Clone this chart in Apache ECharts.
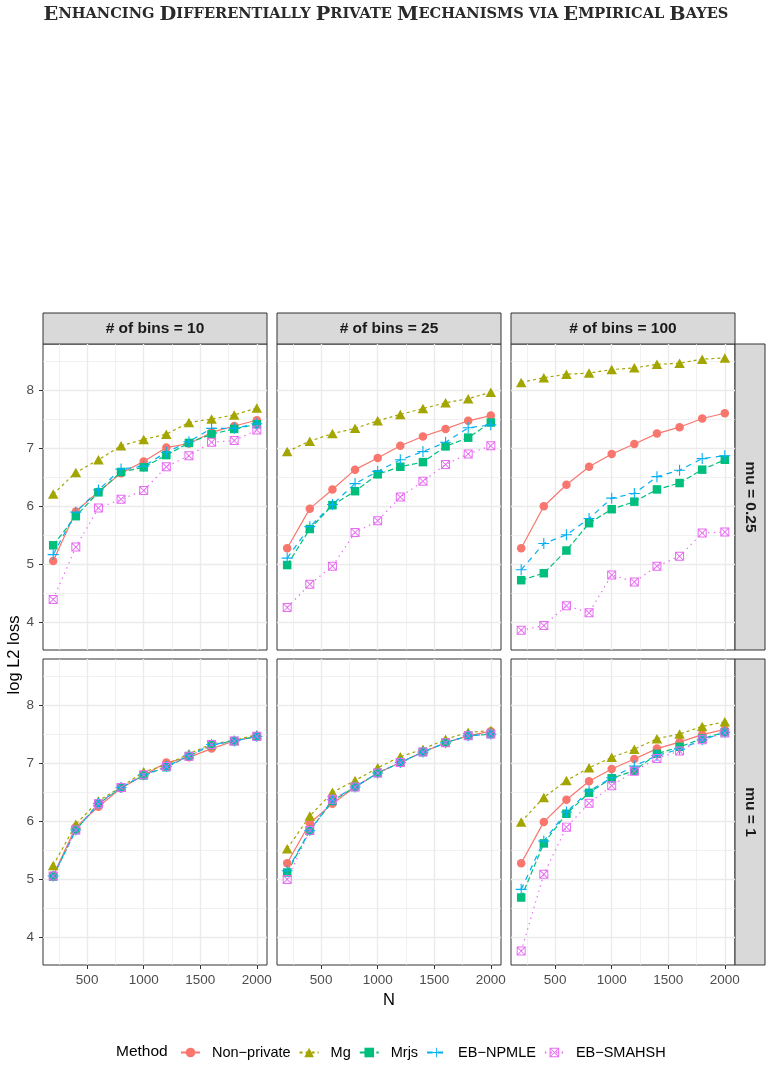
<!DOCTYPE html>
<html>
<head>
<meta charset="utf-8">
<script src="https://cdn.jsdelivr.net/npm/echarts@6/dist/echarts.min.js"></script>
<style>html,body{margin:0;padding:0;background:#fff}#chart-container{width:772px;height:1066px}</style>
</head>
<body>
<div id="chart-container"></div>
<script>
var titleText = 'Enhancing Differentially Private Mechanisms via Empirical Bayes';
var N = [200, 400, 600, 800, 1000, 1200, 1400, 1600, 1800, 2000];
var binLabels = ['# of bins = 10', '# of bins = 25', '# of bins = 100'];
var muLabels = ['mu = 0.25', 'mu = 1'];
var xTicks = [500, 1000, 1500, 2000];
var yTicks = [4, 5, 6, 7, 8];

// one row per panel: mu=0.25 (bins 10, 25, 100), then mu=1 (bins 10, 25, 100)
var nonPrivate = [
  [5.06, 5.91, 6.25, 6.57, 6.77, 7.01, 7.08, 7.27, 7.38, 7.48],
  [5.28, 5.96, 6.29, 6.63, 6.83, 7.04, 7.20, 7.33, 7.47, 7.56],
  [5.28, 6.00, 6.37, 6.68, 6.90, 7.07, 7.25, 7.36, 7.51, 7.60],
  [5.07, 5.90, 6.25, 6.57, 6.79, 7.01, 7.10, 7.25, 7.38, 7.46],
  [5.28, 5.97, 6.30, 6.59, 6.83, 7.01, 7.19, 7.35, 7.47, 7.55],
  [5.28, 5.99, 6.37, 6.69, 6.90, 7.07, 7.25, 7.36, 7.49, 7.58]
];
var mg = [
  [6.21, 6.58, 6.80, 7.04, 7.15, 7.24, 7.44, 7.50, 7.57, 7.69],
  [6.94, 7.12, 7.25, 7.34, 7.47, 7.58, 7.68, 7.78, 7.85, 7.96],
  [8.13, 8.21, 8.27, 8.29, 8.35, 8.38, 8.44, 8.46, 8.53, 8.55],
  [5.24, 5.95, 6.35, 6.59, 6.85, 6.97, 7.16, 7.33, 7.39, 7.49],
  [5.53, 6.09, 6.50, 6.70, 6.92, 7.11, 7.24, 7.41, 7.53, 7.56],
  [5.99, 6.41, 6.70, 6.92, 7.10, 7.24, 7.42, 7.50, 7.63, 7.71]
];
var mrjs = [
  [5.33, 5.83, 6.24, 6.59, 6.67, 6.88, 7.09, 7.24, 7.33, 7.41],
  [4.99, 5.61, 6.02, 6.26, 6.55, 6.68, 6.76, 7.03, 7.18, 7.44],
  [4.73, 4.85, 5.24, 5.71, 5.95, 6.08, 6.29, 6.40, 6.63, 6.80],
  [5.05, 5.85, 6.30, 6.58, 6.79, 6.93, 7.12, 7.31, 7.38, 7.46],
  [5.12, 5.84, 6.35, 6.59, 6.83, 7.01, 7.19, 7.35, 7.47, 7.50],
  [4.69, 5.62, 6.13, 6.49, 6.74, 6.87, 7.16, 7.28, 7.42, 7.53]
];
var ebNpmle = [
  [5.17, 5.90, 6.28, 6.64, 6.69, 6.93, 7.11, 7.34, 7.34, 7.42],
  [5.11, 5.65, 6.03, 6.39, 6.60, 6.80, 6.94, 7.10, 7.35, 7.40],
  [4.91, 5.36, 5.51, 5.79, 6.14, 6.22, 6.51, 6.62, 6.82, 6.87],
  [5.06, 5.85, 6.31, 6.58, 6.80, 6.94, 7.13, 7.32, 7.38, 7.46],
  [5.15, 5.84, 6.37, 6.59, 6.83, 7.01, 7.19, 7.35, 7.47, 7.50],
  [4.83, 5.66, 6.16, 6.52, 6.75, 6.95, 7.13, 7.24, 7.40, 7.53]
];
var ebSmahsh = [
  [4.40, 5.30, 5.97, 6.12, 6.27, 6.68, 6.87, 7.10, 7.13, 7.31],
  [4.26, 4.66, 4.97, 5.55, 5.75, 6.16, 6.43, 6.72, 6.90, 7.04],
  [3.87, 3.95, 4.29, 4.17, 4.82, 4.70, 4.97, 5.14, 5.54, 5.56],
  [5.06, 5.85, 6.30, 6.58, 6.80, 6.94, 7.12, 7.32, 7.38, 7.46],
  [5.00, 5.84, 6.38, 6.59, 6.83, 7.01, 7.19, 7.35, 7.47, 7.50],
  [3.77, 5.09, 5.90, 6.31, 6.61, 6.86, 7.08, 7.21, 7.40, 7.52]
];

var PLUS = 'path://M0,4.5H10V5.5H0Z M4.5,0H5.5V10H4.5Z';
var SQCROSS = 'path://M0,0H10V10H0Z M1.1,1.1V8.9H8.9V1.1Z M0,0.7L0.7,0L10,9.3L9.3,10Z M9.3,0L10,0.7L0.7,10L0,9.3Z';

var methods = [
  {name: 'Non\u2212private', data: nonPrivate, color: '#F8766D', symbol: 'circle', size: 8.5, dash: 'solid'},
  {name: 'Mg', data: mg, color: '#A3A500', symbol: 'triangle', size: [10.5, 9.5], dash: [3, 3]},
  {name: 'Mrjs', data: mrjs, color: '#00BF7D', symbol: 'rect', size: 8.5, dash: [5.5, 2.8]},
  {name: 'EB\u2212NPMLE', data: ebNpmle, color: '#00B0F6', symbol: PLUS, size: 11, dash: [5.5, 5]},
  {name: 'EB\u2212SMAHSH', data: ebSmahsh, color: '#E76BF3', symbol: SQCROSS, size: 9, dash: [1.4, 4.2]}
];

var FONT = 'Liberation Sans';
var colLeft = [43, 277, 511];
var rowTop = [344, 659];
var pw = 224, ph = 306;

var dom = document.getElementById('chart-container');
var myChart = echarts.init(dom, null, {renderer: 'canvas'});

var grids = [], xAxes = [], yAxes = [], series = [], graphics = [];

function gridLines() {
  var d = [];
  var minor = {width: 0.7, type: 'solid', color: '#EBEBEB'};
  var major = {width: 1.4, type: 'solid', color: '#EBEBEB'};
  [250, 750, 1250, 1750].forEach(function (v) { d.push({xAxis: v, lineStyle: minor}); });
  [4.5, 5.5, 6.5, 7.5, 8.5].forEach(function (v) { d.push({yAxis: v, lineStyle: minor}); });
  xTicks.forEach(function (v) { d.push({xAxis: v, lineStyle: major}); });
  yTicks.forEach(function (v) { d.push({yAxis: v, lineStyle: major}); });
  return d;
}

function plain(v) { return String(v); }

for (var r = 0; r < 2; r++) {
  for (var c = 0; c < 3; c++) {
    var i = r * 3 + c;
    grids.push({left: colLeft[c], top: rowTop[r], width: pw, height: ph, show: true,
      backgroundColor: '#fff', borderColor: '#333333', borderWidth: 1});
    xAxes.push({type: 'value', gridIndex: i, min: 110, max: 2090,
      splitLine: {show: false}, axisLine: {show: false, onZero: false},
      axisTick: {show: r === 1, customValues: xTicks, length: 4, lineStyle: {color: '#333333', width: 1}},
      axisLabel: {show: r === 1, customValues: xTicks, formatter: plain, margin: 8, color: '#4D4D4D', fontSize: 13.5, fontFamily: FONT}});
    yAxes.push({type: 'value', gridIndex: i, min: 3.53, max: 8.79,
      splitLine: {show: false}, axisLine: {show: false, onZero: false},
      axisTick: {show: c === 0, customValues: yTicks, length: 4, lineStyle: {color: '#333333', width: 1}},
      axisLabel: {show: c === 0, customValues: yTicks, formatter: plain, margin: 9, color: '#4D4D4D', fontSize: 13.5, fontFamily: FONT}});
    series.push({type: 'line', xAxisIndex: i, yAxisIndex: i, data: [], silent: true,
      markLine: {silent: true, symbol: 'none', z: 1, animation: false, label: {show: false},
        lineStyle: {color: '#EBEBEB', type: 'solid'}, emphasis: {disabled: true}, data: gridLines()}});
    methods.forEach(function (m) {
      series.push({
        name: m.name, type: 'line', xAxisIndex: i, yAxisIndex: i, z: 3,
        data: N.map(function (n, k) { return [n, m.data[i][k]]; }),
        symbol: m.symbol, symbolSize: m.size, showAllSymbol: true,
        itemStyle: {color: m.color},
        lineStyle: {color: m.color, width: 1.2, type: m.dash},
        emphasis: {disabled: true}, silent: true
      });
    });
  }
  // right-hand strip
  graphics.push({type: 'rect', shape: {x: 735, y: rowTop[r], width: 30, height: ph},
    style: {fill: '#D9D9D9', stroke: '#333333', lineWidth: 1}});
  graphics.push({type: 'text', x: 750, y: rowTop[r] + ph / 2, rotation: -Math.PI / 2,
    style: {text: muLabels[r], fill: '#1A1A1A', font: 'bold 15.5px ' + FONT, align: 'center', verticalAlign: 'middle'}});
}
for (var c2 = 0; c2 < 3; c2++) {
  graphics.push({type: 'rect', shape: {x: colLeft[c2], y: 313, width: pw, height: 31},
    style: {fill: '#D9D9D9', stroke: '#333333', lineWidth: 1}});
  graphics.push({type: 'text', x: colLeft[c2] + pw / 2, y: 328.5,
    style: {text: binLabels[c2], fill: '#1A1A1A', font: 'bold 15.5px ' + FONT, align: 'center', verticalAlign: 'middle'}});
}
graphics.push({type: 'text', x: 14, y: 655, rotation: Math.PI / 2,
  style: {text: 'log L2 loss', fill: '#000', font: '16.5px ' + FONT, align: 'center', verticalAlign: 'middle'}});
graphics.push({type: 'text', x: 389, y: 1000,
  style: {text: 'N', fill: '#000', font: '16.5px ' + FONT, align: 'center', verticalAlign: 'middle'}});
graphics.push({type: 'text', x: 116, y: 1052,
  style: {text: 'Method', fill: '#000', font: '15.5px ' + FONT, align: 'left', verticalAlign: 'middle'}});

var richTitle = titleText.split(' ').map(function (w) {
  var up = w.toUpperCase();
  if (w[0] !== w[0].toLowerCase()) return '{a|' + up[0] + '}{b|' + up.slice(1) + '}';
  return '{b|' + up + '}';
}).join('{b| }');

option = {
  animation: false,
  backgroundColor: '#fff',
  title: {text: richTitle, left: 'center', top: 0,
    textStyle: {rich: {
      a: {fontFamily: 'DejaVu Serif', fontSize: 19.4, color: '#2a2a2a'},
      b: {fontFamily: 'DejaVu Serif', fontSize: 14.6, color: '#2a2a2a'}
    }}},
  grid: grids,
  xAxis: xAxes,
  yAxis: yAxes,
  legend: {data: methods.map(function (m) { return m.name; }), left: 175, top: 1040,
    itemWidth: 19, itemHeight: 12, itemGap: 8, selectedMode: false,
    textStyle: {fontSize: 14.5, color: '#000', fontFamily: FONT, padding: [0, 0, 0, 7]}},
  graphic: graphics,
  series: series
};

myChart.setOption(option);
window.addEventListener('resize', myChart.resize);
</script>
</body>
</html>
